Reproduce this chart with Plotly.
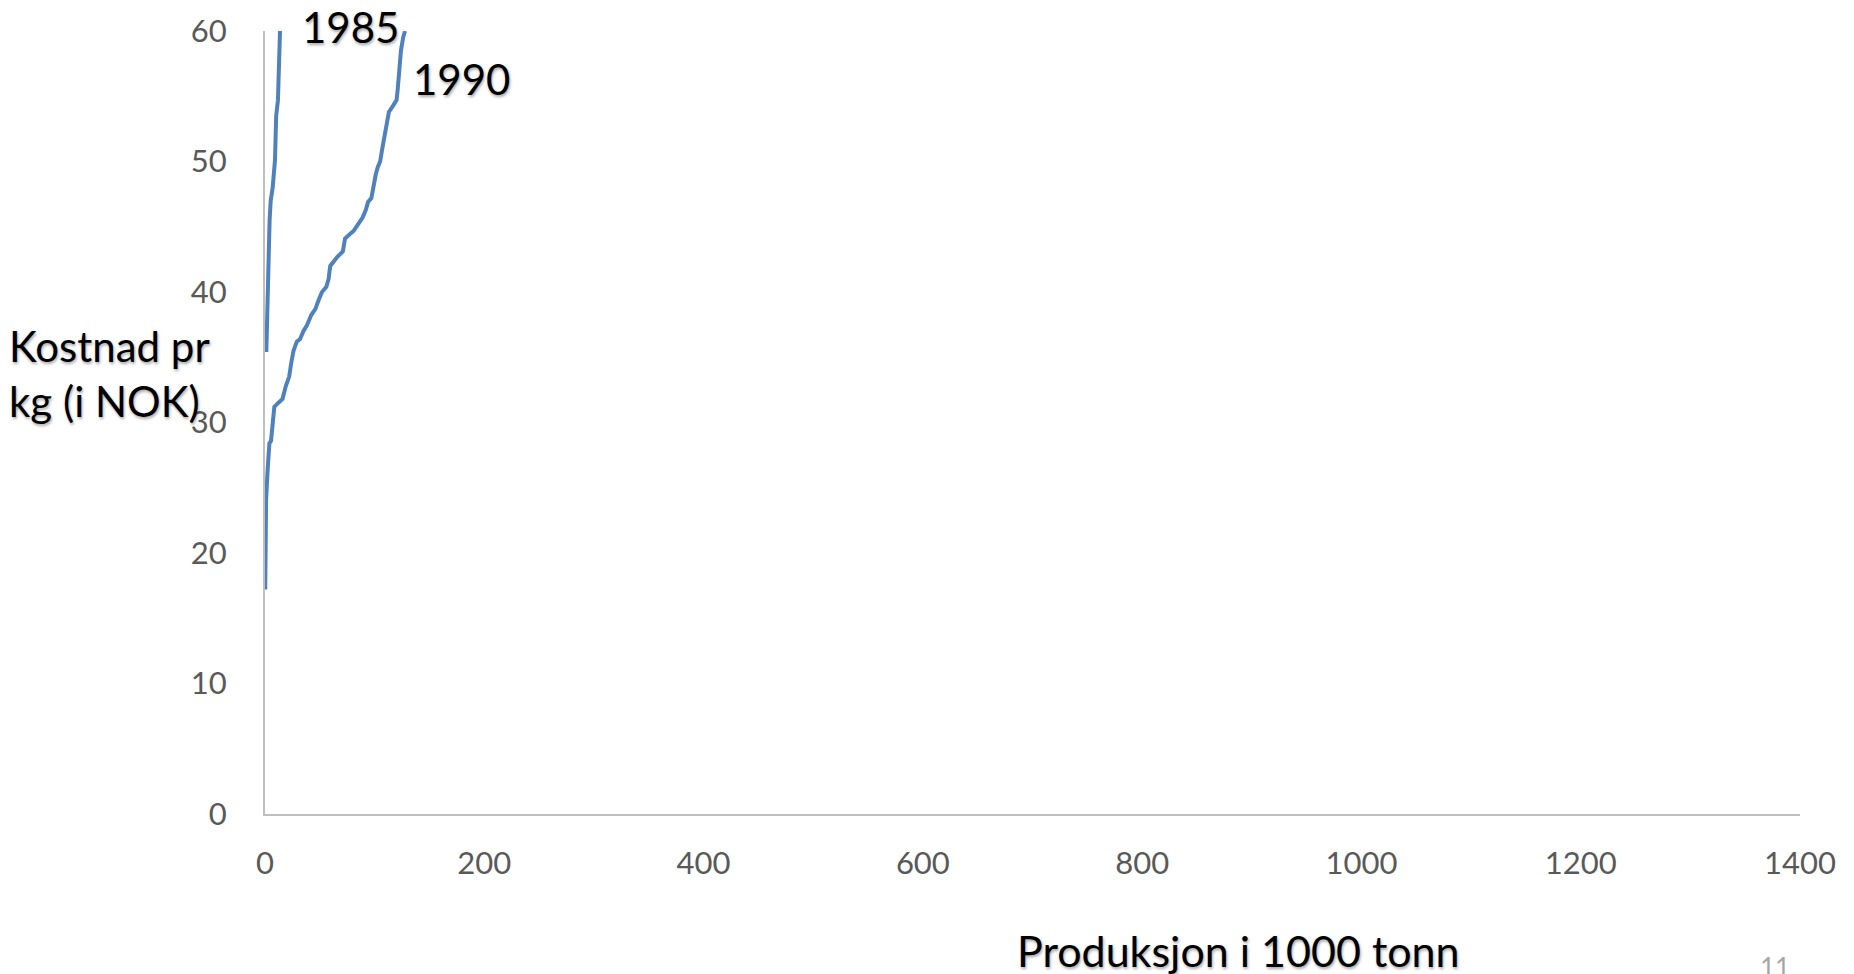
import plotly.graph_objects as go

# Data
x_1985 = [1.2, 2.0, 3.0, 4.2, 5.2, 7.0, 9.1, 10.2, 11.8, 12.6, 13.7]
y_1985 = [35.4, 38.5, 42.5, 45.5, 47.0, 48.0, 50.1, 53.5, 54.7, 57.0, 60.0]

x_1990 = [0.2, 0.5, 1, 2.5, 4, 5.5, 6.5, 7.5, 8.5, 12, 16, 19, 22, 24, 26, 29, 32, 35, 38,
          42, 46, 49, 52, 56, 58, 59.5, 63, 66, 71, 73, 77, 81, 85, 89, 92, 94, 97, 99,
          101, 103, 105, 107, 109, 111, 113, 117, 120, 121, 122.5, 124, 126, 127.7]
y_1990 = [17.2, 22, 24.1, 26.5, 28.4, 28.6, 29.6, 30.5, 31.2, 31.5, 31.8, 32.8, 33.5, 34.6,
          35.5, 36.2, 36.4, 37, 37.4, 38.2, 38.7, 39.4, 40.0, 40.4, 41, 42, 42.4, 42.7, 43.1,
          44.1, 44.4, 44.7, 45.2, 45.7, 46.3, 46.9, 47.2, 48.2, 49, 49.6, 50, 51, 52, 53,
          53.8, 54.3, 54.7, 55.5, 57.2, 58.5, 59.5, 60]

x_ticks = [0, 200, 400, 600, 800, 1000, 1200, 1400]
y_ticks = [0, 10, 20, 30, 40, 50, 60]

X_MAX = 1400
Y_MAX = 60

series = [("1985", x_1985, y_1985), ("1990", x_1990, y_1990)]
label_pos = {"1985": (78, 60.27), "1990": (179, 56.3)}

LINE = "#4F81BD"
FONT = "Lato"
SHADOW = "1px 2px 3px rgba(0,0,0,0.35)"

fig = go.Figure()
for name, xs, ys in series:
    fig.add_trace(go.Scatter(x=xs, y=ys, mode="lines", name=name,
                             line=dict(color=LINE, width=4), showlegend=False,
                             cliponaxis=False))

annotations = []
for name, (lx, ly) in label_pos.items():
    annotations.append(dict(x=lx / X_MAX, y=ly / Y_MAX, xref="paper", yref="paper",
                            text=name, showarrow=False,
                            font=dict(family=FONT, size=42, color="#000000", shadow=SHADOW),
                            xanchor="center", yanchor="middle"))

annotations.append(dict(x=-0.168, y=0.5625, xref="paper", yref="paper",
                        text="Kostnad pr<br>kg (i NOK)", showarrow=False, align="left",
                        font=dict(family=FONT, size=42, color="#000000", shadow=SHADOW),
                        xanchor="left", yanchor="middle"))
annotations.append(dict(x=0.634, y=-0.174, xref="paper", yref="paper",
                        text="Produksjon i 1000 tonn", showarrow=False,
                        font=dict(family=FONT, size=43, color="#000000", shadow=SHADOW),
                        xanchor="center", yanchor="middle"))
annotations.append(dict(x=0.984, y=-0.196, xref="paper", yref="paper",
                        text="11", showarrow=False,
                        font=dict(family=FONT, size=26, color="#A6A6A6"),
                        xanchor="center", yanchor="middle"))

fig.update_layout(
    width=1854, height=974,
    margin=dict(l=257, r=62, t=23, b=168),
    paper_bgcolor="white", plot_bgcolor="white",
    annotations=annotations,
    xaxis=dict(range=[0, X_MAX], tickvals=x_ticks, ticktext=[str(v) for v in x_ticks],
               showgrid=False, zeroline=False, showline=True, linecolor="#BFBFBF",
               linewidth=2, ticks="", ticklabelstandoff=21, automargin=False,
               tickfont=dict(family=FONT, size=31, color="#595959")),
    yaxis=dict(range=[0, Y_MAX], tickvals=y_ticks, ticktext=[str(v) for v in y_ticks],
               showgrid=False, zeroline=False, showline=True, linecolor="#BFBFBF",
               linewidth=2, ticks="", ticklabelstandoff=30, automargin=False,
               tickfont=dict(family=FONT, size=31, color="#595959")),
)

fig.write_html("out.html")
